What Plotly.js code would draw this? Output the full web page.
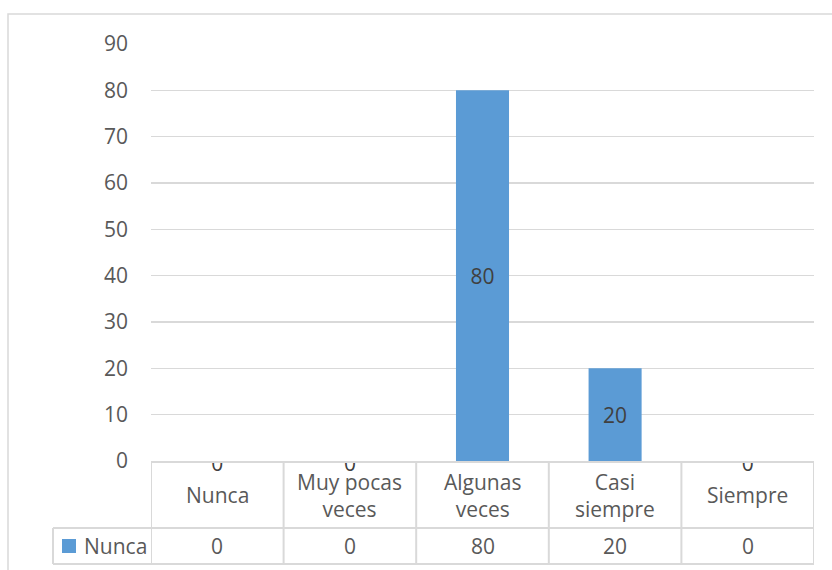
<!DOCTYPE html>
<html>
<head>
<meta charset="utf-8">
<script src="https://cdn.plot.ly/plotly-3.0.1.min.js"></script>
<style>html,body{margin:0;padding:0;background:#fff;}#chart{width:832px;height:570px;}</style>
</head>
<body>
<div id="chart"></div>
<script>
// ---- data ----
const categories = ["Nunca", "Muy pocas veces", "Algunas veces", "Casi siempre", "Siempre"];
const tickLabels = ["Nunca", "Muy pocas<br>veces", "Algunas<br>veces", "Casi<br>siempre", "Siempre"];
const seriesName = "Nunca";
const values = [0, 0, 80, 20, 0];
const yTicks = [0, 10, 20, 30, 40, 50, 60, 70, 80, 90];

// ---- layout helpers ----
const W = 832, H = 570;
const px = x => x / W;
const py = y => 1 - y / H;
const FONT = "Open Sans, Noto Sans, sans-serif";
const GRAY = "#595959";
const LINE = "#d9d9d9";
const BLUE = "#5B9BD5";

const barTrace = {
  type: "bar",
  x: categories,
  y: values,
  xaxis: "x", yaxis: "y",
  marker: {color: BLUE},
  text: values.map(v => v !== 0 ? String(v) : ""),
  textposition: "inside",
  insidetextanchor: "middle",
  textangle: 0,
  constraintext: "none",
  textfont: {family: FONT, size: 21, color: "#404040"},
  hoverinfo: "skip",
  showlegend: false
};

// zero-value data labels, partly hidden behind the data table (clipped)
const zeroLabels = {
  type: "scatter",
  mode: "text",
  x: categories,
  y: values.map(v => v === 0 ? v : null),
  text: values.map(v => v === 0 ? String(v) : ""),
  textposition: "middle center",
  textfont: {family: FONT, size: 21, color: "#404040"},
  xaxis: "x", yaxis: "y2",
  cliponaxis: true,
  hoverinfo: "skip",
  showlegend: false
};

const n = categories.length;
const shapes = [];
// outer chart border
shapes.push({type: "rect", xref: "paper", yref: "paper", x0: px(8), x1: px(840), y0: py(580), y1: py(14),
  line: {color: LINE, width: 1.5}, fillcolor: "rgba(0,0,0,0)", layer: "below"});
// table vertical lines at category boundaries
for (let i = 0; i <= n; i++) {
  shapes.push({type: "line", xref: "x", yref: "paper", x0: i - 0.5, x1: i - 0.5, y0: py(462), y1: py(564),
    line: {color: LINE, width: 2}});
}
// table horizontal lines
shapes.push({type: "line", xref: "x", yref: "paper", x0: -0.5, x1: n - 0.5, y0: py(462), y1: py(462), line: {color: LINE, width: 2}});
shapes.push({type: "line", xref: "paper", yref: "paper", x0: px(53), x1: px(814), y0: py(528), y1: py(528), line: {color: LINE, width: 2}});
shapes.push({type: "line", xref: "paper", yref: "paper", x0: px(53), x1: px(814), y0: py(564), y1: py(564), line: {color: LINE, width: 2}});
shapes.push({type: "line", xref: "paper", yref: "paper", x0: px(53), x1: px(53), y0: py(528), y1: py(564), line: {color: LINE, width: 2}});
// legend key
shapes.push({type: "rect", xref: "paper", yref: "paper", x0: px(62), x1: px(76), y0: py(553), y1: py(539),
  line: {width: 0}, fillcolor: BLUE});

const annotations = [];
categories.forEach((c, i) => {
  annotations.push({xref: "x", yref: "paper", x: c, y: py(495), text: tickLabels[i], showarrow: false,
    xanchor: "center", yanchor: "middle", align: "center", font: {family: FONT, size: 21, color: GRAY}});
  annotations.push({xref: "x", yref: "paper", x: c, y: py(546), text: String(values[i]), showarrow: false,
    xanchor: "center", yanchor: "middle", font: {family: FONT, size: 21, color: GRAY}});
});
annotations.push({xref: "paper", yref: "paper", x: px(82), y: py(546), text: seriesName, showarrow: false,
  xanchor: "left", yanchor: "middle", font: {family: FONT, size: 21, color: GRAY}});

const layout = {
  width: W, height: H,
  margin: {l: 0, r: 0, t: 0, b: 0, pad: 0},
  paper_bgcolor: "#ffffff",
  plot_bgcolor: "rgba(0,0,0,0)",
  showlegend: false,
  bargap: 0.6,
  font: {family: FONT, color: GRAY, size: 21},
  xaxis: {
    domain: [px(151), px(814)],
    type: "category",
    range: [-0.5, n - 0.5],
    showticklabels: false, showgrid: false, zeroline: false, showline: false, ticks: "",
    anchor: "y"
  },
  yaxis: {
    domain: [py(461), py(44)],
    range: [0, 90],
    tickvals: yTicks,
    ticktext: yTicks.map(String),
    showgrid: true, gridcolor: LINE, gridwidth: 1.5,
    zeroline: false, showline: false, ticks: "",
    ticklabelstandoff: 22,
    tickfont: {family: FONT, size: 21, color: GRAY},
    anchor: "x"
  },
  yaxis2: {
    domain: [py(528), py(462)],
    range: [-62, 4],
    visible: false,
    showgrid: false, zeroline: false,
    anchor: "x"
  },
  shapes: shapes,
  annotations: annotations
};

Plotly.newPlot("chart", [barTrace, zeroLabels], layout, {displayModeBar: false, staticPlot: true});
</script>
</body>
</html>
